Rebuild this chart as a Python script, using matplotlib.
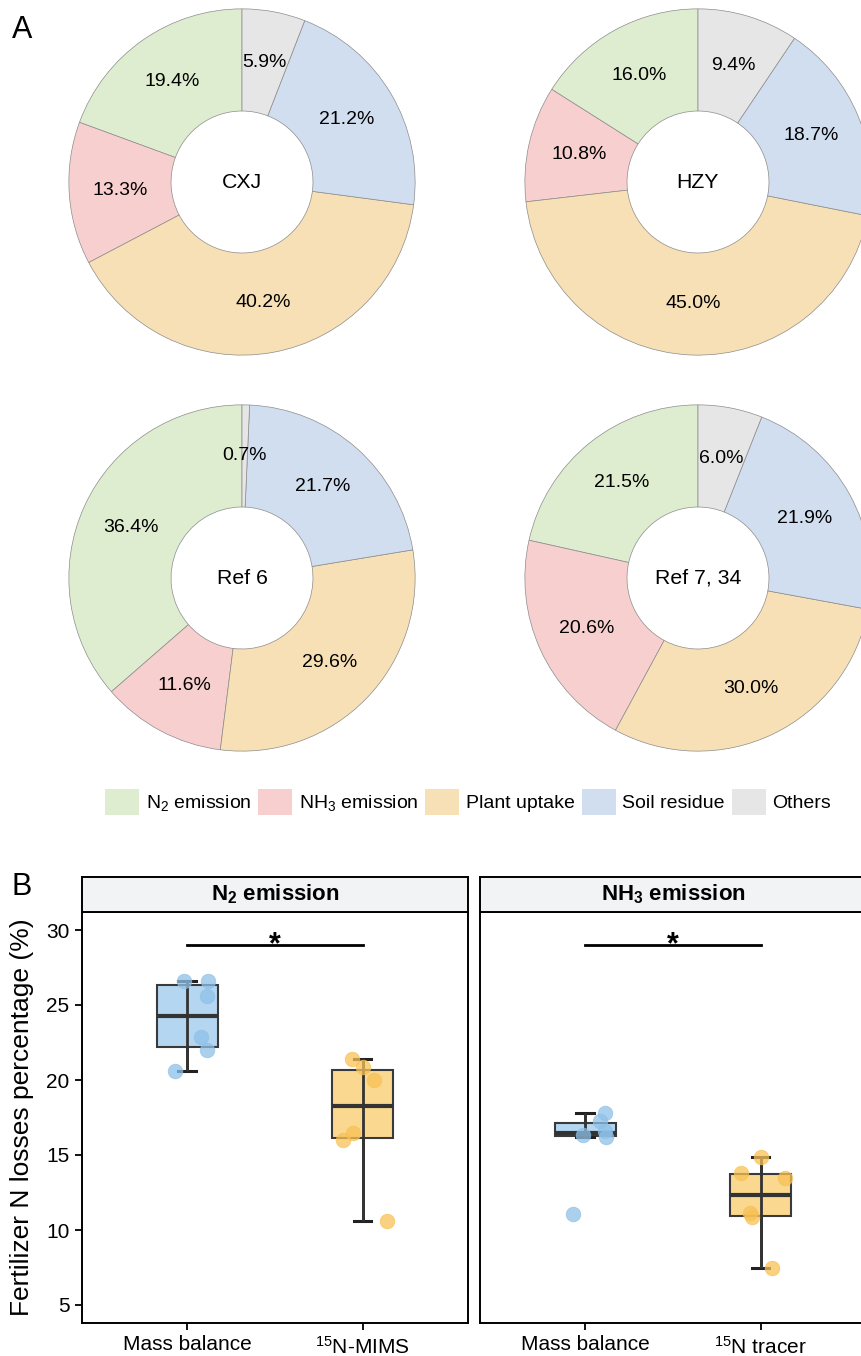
import numpy as np
import matplotlib.pyplot as plt
import matplotlib.colors as mcolors
from matplotlib.patches import Patch
from matplotlib import cbook

plt.rcParams['font.family'] = ['Liberation Sans', 'DejaVu Sans']
plt.rcParams['mathtext.fontset'] = 'custom'
plt.rcParams['mathtext.rm'] = 'Liberation Sans'
plt.rcParams['mathtext.it'] = 'Liberation Sans:italic'
plt.rcParams['mathtext.bf'] = 'Liberation Sans:bold'

# ---- panel A data (percent of fertilizer N) ----
components = ['N$_2$ emission', 'NH$_3$ emission', 'Plant uptake', 'Soil residue', 'Others']
pie_colors = ['#deedcf', '#f8cfcf', '#f7e0b6', '#d1deef', '#e6e6e6']
sites = ['CXJ', 'HZY', 'Ref 6', 'Ref 7, 34']
cxj = [19.4, 13.3, 40.2, 21.2, 5.9]
hzy = [16.0, 10.8, 45.0, 18.7, 9.4]
ref6 = [36.4, 11.6, 29.6, 21.7, 0.7]
ref7_34 = [21.5, 20.6, 30.0, 21.9, 6.0]

# ---- panel B data (%) ----
methods_n2 = ['Mass balance', '$^{15}$N-MIMS']
methods_nh3 = ['Mass balance', '$^{15}$N tracer']
n2_mass = [26.6, 26.6, 25.6, 22.9, 22.0, 20.6]
n2_mims = [21.4, 20.9, 20.0, 16.5, 16.0, 10.6]
nh3_mass = [17.8, 17.3, 16.6, 16.35, 16.2, 11.1]
nh3_tracer = [14.85, 13.8, 13.5, 11.15, 10.9, 7.5]
# horizontal jitter
jit_n2_mass = [-0.02, 0.12, 0.11, 0.08, 0.11, -0.07]
jit_n2_mims = [-0.06, 0.0, 0.065, -0.055, -0.11, 0.14]
jit_nh3_mass = [0.11, 0.085, 0.11, -0.015, 0.12, -0.07]
jit_nh3_tracer = [0.0, -0.11, 0.14, -0.06, -0.05, 0.065]

box_fills = ['#b5d6f0', '#fbd88f']
point_cols = ['#8ec1e8', '#f7c255']

W, H = 862, 1356
fig = plt.figure(figsize=(W / 100, H / 100), dpi=100)


def px_axes(left, top, w, h):
    return fig.add_axes([left / W, 1 - (top + h) / H, w / W, h / H])


# ---- donuts ----
R = 174
hole = 0.41
centers = [(242, 182), (698, 182), (242, 578), (698, 578)]
for (cx, cy), name, vals in zip(centers, sites, [cxj, hzy, ref6, ref7_34]):
    ax = px_axes(cx - R, cy - R, 2 * R, 2 * R)
    wedges, _ = ax.pie(vals, colors=pie_colors, startangle=90, counterclock=True,
                       radius=1, wedgeprops=dict(width=1 - hole, edgecolor='#8c8c8c', linewidth=0.5))
    ax.set_xlim(-1.005, 1.005)
    ax.set_ylim(-1.005, 1.005)
    rr = (1 + hole) / 2
    for w, v in zip(wedges, vals):
        ang = np.deg2rad((w.theta1 + w.theta2) / 2)
        ax.text(rr * np.cos(ang), rr * np.sin(ang), f'{v:.1f}%', ha='center', va='center', fontsize=14)
    ax.text(0, 0, name, ha='center', va='center', fontsize=15.3)

fig.text(12 / W, 1 - 30 / H, 'A', fontsize=22, ha='left', va='center')
fig.text(12 / W, 1 - 887 / H, 'B', fontsize=22, ha='left', va='center')

handles = [Patch(facecolor=c, edgecolor='none') for c in pie_colors]
fig.legend(handles, components, loc='center', bbox_to_anchor=(468 / W, 1 - 802 / H), ncol=5,
           frameon=False, fontsize=14, handlelength=1.75, handleheight=1.75,
           handletextpad=0.35, columnspacing=0.35, borderpad=0, borderaxespad=0)


# ---- boxplots ----
def draw_facet(ax, groups, jitters, labels):
    for i, (vals, jit) in enumerate(zip(groups, jitters)):
        pos = i + 1
        st = cbook.boxplot_stats(vals, whis=1.5)[0]
        ax.vlines(pos, st['whislo'], st['whishi'], color='#333333', lw=2, zorder=2.5)
        ax.bxp([st], positions=[pos], widths=0.35, patch_artist=True, showfliers=False,
               capwidths=[0.1],
               boxprops=dict(facecolor=box_fills[i], edgecolor='#3a3a3a', linewidth=1.5),
               medianprops=dict(color='#333333', linewidth=3),
               whiskerprops=dict(color='#333333', linewidth=2),
               capprops=dict(color='#222222', linewidth=2.2))
        ax.scatter([pos + j for j in jit], vals, s=110, color=point_cols[i], alpha=0.75,
                   edgecolors=mcolors.to_rgba(point_cols[i], 0.4), linewidths=0.6, zorder=3)
    ax.set_xlim(0.4, 2.6)
    ax.set_ylim(3.8, 31.2)
    ax.set_xticks([1, 2])
    ax.set_xticklabels(labels, fontsize=15)
    ax.plot([1, 2], [29, 29], color='black', lw=2)
    ax.text(1.5, 28.45, '*', ha='center', va='baseline', fontsize=22, fontweight='bold')
    for s in ax.spines.values():
        s.set_linewidth(1.4)
    ax.tick_params(length=5, width=1.3, labelsize=15, pad=4)


def strip(left, title):
    sa = px_axes(left, 877, 386, 35)
    sa.set_facecolor('#f2f3f5')
    sa.set_xticks([])
    sa.set_yticks([])
    for s in sa.spines.values():
        s.set_linewidth(1.4)
    sa.text(0.5, 0.5, title, ha='center', va='center', fontsize=16, fontweight='bold',
            transform=sa.transAxes)


ax1 = px_axes(82, 912, 386, 411)
draw_facet(ax1, [n2_mass, n2_mims], [jit_n2_mass, jit_n2_mims], methods_n2)
ax1.set_yticks([5, 10, 15, 20, 25, 30])
strip(82, r'N$_\mathbf{2}$ emission')

ax2 = px_axes(480, 912, 386, 411)
draw_facet(ax2, [nh3_mass, nh3_tracer], [jit_nh3_mass, jit_nh3_tracer], methods_nh3)
ax2.set_yticks([])
strip(480, r'NH$_\mathbf{3}$ emission')

fig.text(22 / W, 1 - 1117 / H, 'Fertilizer N losses percentage (%)', rotation=90,
         ha='center', va='center', fontsize=19)

fig.savefig('out.png', dpi=100)
